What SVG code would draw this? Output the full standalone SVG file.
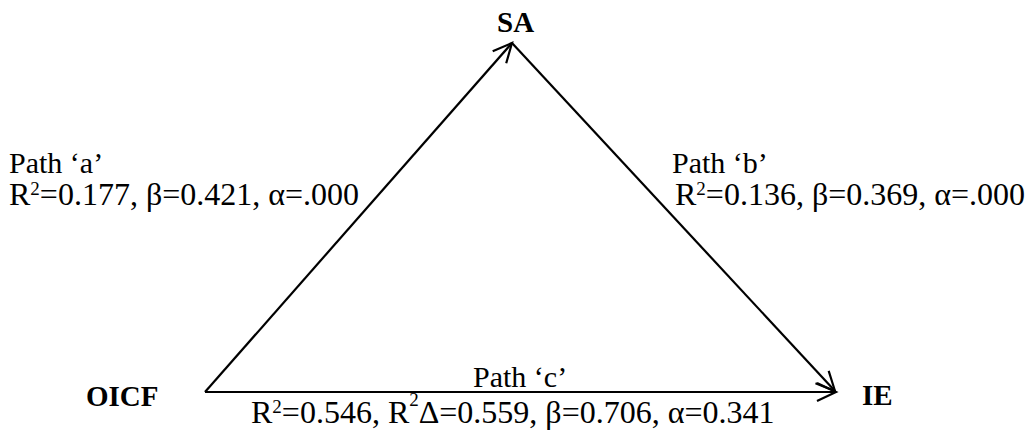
<svg xmlns="http://www.w3.org/2000/svg" width="1028" height="432" viewBox="0 0 1028 432">
<style>
.p{font-family:"Liberation Serif","Times New Roman",serif;font-size:30px;fill:#000}
.t{font-family:"Liberation Serif","Times New Roman",serif;font-size:32px;fill:#000}
.b{font-family:"Liberation Serif","Times New Roman",serif;font-size:29px;font-weight:bold;fill:#000}
.s{font-size:19px}
.c{stroke:#000;stroke-width:2.2;fill:none}
</style>
<defs>
<marker id="arr" markerUnits="userSpaceOnUse" markerWidth="40" markerHeight="40" refX="0" refY="0" orient="auto" overflow="visible">
<path d="M-19,-9 L0,0 L-19,9" fill="none" stroke="#000" stroke-width="2.2"/>
</marker>
</defs>
<rect width="1028" height="432" fill="#fff"/>
<g id="connectors">
<line class="c" x1="205" y1="392" x2="512" y2="43" marker-end="url(#arr)"/>
<line class="c" x1="512" y1="43" x2="835" y2="391" marker-end="url(#arr)"/>
<line class="c" x1="205" y1="392" x2="836" y2="392" marker-end="url(#arr)"/>
</g>
<g id="node-SA"><text class="b" x="497" y="32">SA</text></g>
<g id="node-OICF"><text class="b" x="86" y="406">OICF</text></g>
<g id="node-IE"><text class="b" x="862" y="405">IE</text></g>
<g id="label-a">
<text class="p" x="9" y="173">Path ‘a’</text>
<text class="t" x="9" y="205">R<tspan class="s" dy="-10">2</tspan><tspan dy="10">=0.177, β=0.421, α=.000</tspan></text>
</g>
<g id="label-b">
<text class="p" x="672" y="173">Path ‘b’</text>
<text class="t" x="675" y="205">R<tspan class="s" dy="-10">2</tspan><tspan dy="10">=0.136, β=0.369, α=.000</tspan></text>
</g>
<g id="label-c">
<text class="p" x="473" y="387">Path ‘c’</text>
<text class="t" x="251" y="423">R<tspan class="s" dy="-10">2</tspan><tspan dy="10">=0.546, R</tspan><tspan font-size="19" dy="-17">2</tspan><tspan dy="17">Δ=0.559, β=0.706, α=0.341</tspan></text>
</g>
</svg>
